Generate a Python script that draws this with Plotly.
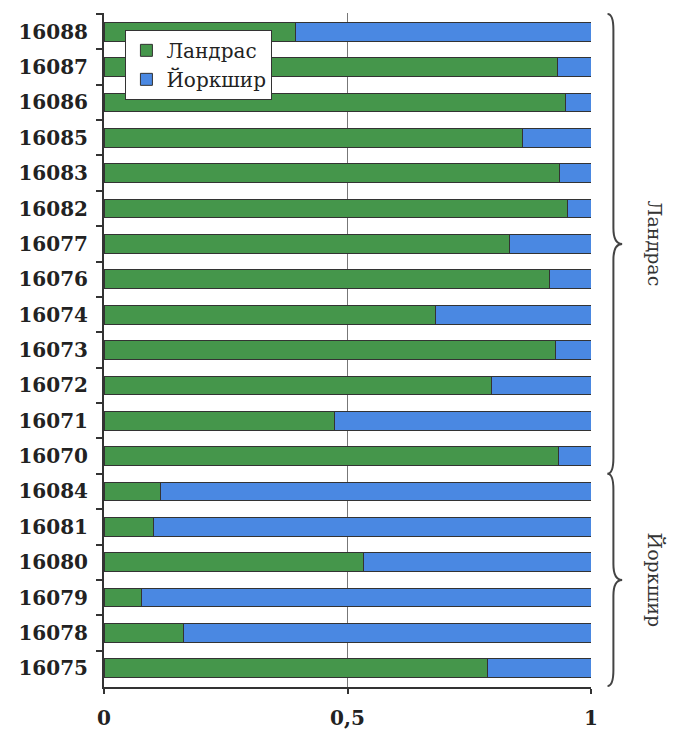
import plotly.graph_objects as go

# Animals, listed top to bottom
animals = ["16088", "16087", "16086", "16085", "16083", "16082", "16077",
           "16076", "16074", "16073", "16072", "16071", "16070",
           "16084", "16081", "16080", "16079", "16078", "16075"]

# Ancestry proportions per animal
landrace = [0.393, 0.931, 0.948, 0.860, 0.935, 0.951, 0.832,
            0.915, 0.681, 0.927, 0.796, 0.473, 0.933,
            0.115, 0.102, 0.533, 0.077, 0.163, 0.787]
yorkshire = [0.607, 0.069, 0.052, 0.140, 0.065, 0.049, 0.168,
             0.085, 0.319, 0.073, 0.204, 0.527, 0.067,
             0.885, 0.898, 0.467, 0.923, 0.837, 0.213]

# Breed groups: (label, first animal, last animal)
groups = [("Ландрас", "16088", "16070"), ("Йоркшир", "16084", "16075")]

x_ticks = [0, 0.5, 1]
x_tick_text = ["0", "0,5", "1"]

GREEN = "#45964b"
BLUE = "#4a88e2"
EDGE = "#333333"
SERIF = "DejaVu Serif"

fig = go.Figure()
fig.add_trace(go.Bar(y=animals, x=landrace, orientation="h", name="Ландрас",
                     marker=dict(color=GREEN, line=dict(color=EDGE, width=1))))
fig.add_trace(go.Bar(y=animals, x=yorkshire, orientation="h", name="Йоркшир",
                     marker=dict(color=BLUE, line=dict(color=EDGE, width=1))))

# Curly braces grouping the animals by breed, with rotated labels
shapes = []
annotations = []
x_end, x_line, x_tip = 1.034, 1.046, 1.064
for label, first, last in groups:
    y0 = animals.index(first) - 0.5
    y1 = animals.index(last) + 0.5
    ym = (y0 + y1) / 2
    r = 0.45
    path = (f"M {x_end},{y0} Q {x_line},{y0} {x_line},{y0 + r} "
            f"L {x_line},{ym - r} Q {x_line},{ym} {x_tip},{ym} "
            f"Q {x_line},{ym} {x_line},{ym + r} "
            f"L {x_line},{y1 - r} Q {x_line},{y1} {x_end},{y1}")
    shapes.append(dict(type="path", path=path, xref="paper", yref="y",
                       line=dict(color="#444444", width=2)))
    annotations.append(dict(x=1.132, y=ym, xref="paper", yref="y", text=label,
                            xanchor="center", yanchor="middle",
                            showarrow=False, textangle=90,
                            font=dict(family=SERIF, size=19, color="#333333")))

fig.update_layout(
    width=673, height=735,
    margin=dict(l=104, r=82, t=13, b=48),
    barmode="stack",
    bargap=0.47,
    plot_bgcolor="white",
    paper_bgcolor="white",
    shapes=shapes,
    annotations=annotations,
    legend=dict(x=0.044, y=0.975, xanchor="left", yanchor="top",
                traceorder="normal",
                bgcolor="white", bordercolor=EDGE, borderwidth=1,
                font=dict(family=SERIF, size=20, color="#222222"),
                tracegroupgap=0),
    xaxis=dict(range=[0, 1], tickvals=x_ticks, ticktext=x_tick_text,
               automargin=False,
               showgrid=True, gridcolor="#777777", gridwidth=1,
               zeroline=False, showline=True, linecolor=EDGE, linewidth=2,
               ticks="outside", ticklen=5, tickcolor=EDGE, tickwidth=2,
               ticklabelstandoff=7,
               tickfont=dict(family=SERIF, size=20, color="#222222", weight="bold")),
    yaxis=dict(type="category", categoryorder="array", categoryarray=animals,
               autorange="reversed", tickson="boundaries", automargin=False,
               showgrid=False, zeroline=False, showline=True,
               linecolor=EDGE, linewidth=2,
               ticks="outside", ticklen=6, tickcolor=EDGE, tickwidth=2,
               ticklabelstandoff=10,
               tickfont=dict(family=SERIF, size=20, color="#222222", weight="bold")),
)

fig.write_html("out.html")
